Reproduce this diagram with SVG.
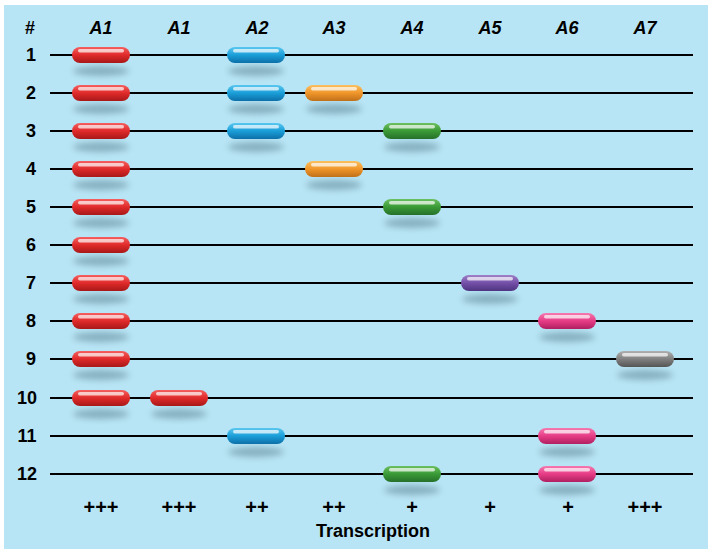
<svg xmlns="http://www.w3.org/2000/svg" width="714" height="555" viewBox="0 0 714 555">
<defs>
<style>
.t{font-family:"Liberation Sans",Arial,sans-serif;font-weight:bold;fill:#000;text-anchor:middle}
.h{font-size:18px;font-style:italic}
.n{font-size:18px}
.p{font-size:20px}
.ln{stroke:#000;stroke-width:2}
.hl{fill:#fff;opacity:0.7}
.sh{fill:#4a6f80;opacity:0.45;filter:url(#blur)}
</style>
<filter id="blur" x="-30%" y="-100%" width="160%" height="300%"><feGaussianBlur stdDeviation="3"/></filter>
<linearGradient id="gr" x1="0" y1="0" x2="0" y2="1"><stop offset="0" stop-color="#f56060"/><stop offset="0.5" stop-color="#e02a2a"/><stop offset="1" stop-color="#a81818"/></linearGradient>
<linearGradient id="gb" x1="0" y1="0" x2="0" y2="1"><stop offset="0" stop-color="#5ac8f0"/><stop offset="0.5" stop-color="#1a9ed8"/><stop offset="1" stop-color="#0d6fa8"/></linearGradient>
<linearGradient id="go" x1="0" y1="0" x2="0" y2="1"><stop offset="0" stop-color="#fbc060"/><stop offset="0.5" stop-color="#f0962a"/><stop offset="1" stop-color="#c0701a"/></linearGradient>
<linearGradient id="gg" x1="0" y1="0" x2="0" y2="1"><stop offset="0" stop-color="#6cc060"/><stop offset="0.5" stop-color="#3a9a36"/><stop offset="1" stop-color="#26702a"/></linearGradient>
<linearGradient id="gp" x1="0" y1="0" x2="0" y2="1"><stop offset="0" stop-color="#a080c8"/><stop offset="0.5" stop-color="#7450a8"/><stop offset="1" stop-color="#4e3480"/></linearGradient>
<linearGradient id="gk" x1="0" y1="0" x2="0" y2="1"><stop offset="0" stop-color="#f57ab0"/><stop offset="0.5" stop-color="#e63c86"/><stop offset="1" stop-color="#b02060"/></linearGradient>
<linearGradient id="gy" x1="0" y1="0" x2="0" y2="1"><stop offset="0" stop-color="#b0b0b0"/><stop offset="0.5" stop-color="#808080"/><stop offset="1" stop-color="#555"/></linearGradient>
<g id="pill-shadow"><ellipse class="sh" cx="0" cy="16" rx="28" ry="5"/></g>
<g id="pill-hl"><rect class="hl" x="-23" y="-6" width="46" height="3.5" rx="1.75"/></g>
</defs>
<rect x="0" y="0" width="714" height="555" fill="#fff"/>
<rect x="4" y="5" width="704" height="544" fill="#b8e5f5"/>

<g id="headers">
<text class="t n" x="30" y="34">#</text>
<text class="t h" x="101" y="34">A1</text>
<text class="t h" x="179" y="34">A1</text>
<text class="t h" x="257" y="34">A2</text>
<text class="t h" x="334" y="34">A3</text>
<text class="t h" x="412" y="34">A4</text>
<text class="t h" x="490" y="34">A5</text>
<text class="t h" x="567" y="34">A6</text>
<text class="t h" x="645" y="34">A7</text>
</g>

<g id="connectors">
<line class="ln" x1="50" y1="55" x2="693" y2="55"/>
<line class="ln" x1="50" y1="93" x2="693" y2="93"/>
<line class="ln" x1="50" y1="131" x2="693" y2="131"/>
<line class="ln" x1="50" y1="169" x2="693" y2="169"/>
<line class="ln" x1="50" y1="207" x2="693" y2="207"/>
<line class="ln" x1="50" y1="245" x2="693" y2="245"/>
<line class="ln" x1="50" y1="283" x2="693" y2="283"/>
<line class="ln" x1="50" y1="321" x2="693" y2="321"/>
<line class="ln" x1="50" y1="359" x2="693" y2="359"/>
<line class="ln" x1="50" y1="398" x2="693" y2="398"/>
<line class="ln" x1="50" y1="436" x2="693" y2="436"/>
<line class="ln" x1="50" y1="474" x2="693" y2="474"/>
</g>

<g id="row-numbers">
<text class="t n" x="31" y="61">1</text>
<text class="t n" x="31" y="99">2</text>
<text class="t n" x="31" y="137">3</text>
<text class="t n" x="31" y="175">4</text>
<text class="t n" x="31" y="213">5</text>
<text class="t n" x="31" y="251">6</text>
<text class="t n" x="31" y="289">7</text>
<text class="t n" x="31" y="327">8</text>
<text class="t n" x="31" y="365">9</text>
<text class="t n" x="27" y="404">10</text>
<text class="t n" x="27" y="442">11</text>
<text class="t n" x="27" y="480">12</text>
</g>

<g id="pills">
<g id="r1a1" transform="translate(101,55)"><use href="#pill-shadow"/><rect x="-29" y="-8" width="58" height="16" rx="8" fill="url(#gr)"/><use href="#pill-hl"/></g>
<g id="r2a1" transform="translate(101,93)"><use href="#pill-shadow"/><rect x="-29" y="-8" width="58" height="16" rx="8" fill="url(#gr)"/><use href="#pill-hl"/></g>
<g id="r3a1" transform="translate(101,131)"><use href="#pill-shadow"/><rect x="-29" y="-8" width="58" height="16" rx="8" fill="url(#gr)"/><use href="#pill-hl"/></g>
<g id="r4a1" transform="translate(101,169)"><use href="#pill-shadow"/><rect x="-29" y="-8" width="58" height="16" rx="8" fill="url(#gr)"/><use href="#pill-hl"/></g>
<g id="r5a1" transform="translate(101,207)"><use href="#pill-shadow"/><rect x="-29" y="-8" width="58" height="16" rx="8" fill="url(#gr)"/><use href="#pill-hl"/></g>
<g id="r6a1" transform="translate(101,245)"><use href="#pill-shadow"/><rect x="-29" y="-8" width="58" height="16" rx="8" fill="url(#gr)"/><use href="#pill-hl"/></g>
<g id="r7a1" transform="translate(101,283)"><use href="#pill-shadow"/><rect x="-29" y="-8" width="58" height="16" rx="8" fill="url(#gr)"/><use href="#pill-hl"/></g>
<g id="r8a1" transform="translate(101,321)"><use href="#pill-shadow"/><rect x="-29" y="-8" width="58" height="16" rx="8" fill="url(#gr)"/><use href="#pill-hl"/></g>
<g id="r9a1" transform="translate(101,359)"><use href="#pill-shadow"/><rect x="-29" y="-8" width="58" height="16" rx="8" fill="url(#gr)"/><use href="#pill-hl"/></g>
<g id="r10a1" transform="translate(101,398)"><use href="#pill-shadow"/><rect x="-29" y="-8" width="58" height="16" rx="8" fill="url(#gr)"/><use href="#pill-hl"/></g>
<g id="r10a1b" transform="translate(179,398)"><use href="#pill-shadow"/><rect x="-29" y="-8" width="58" height="16" rx="8" fill="url(#gr)"/><use href="#pill-hl"/></g>
<g id="r1a2" transform="translate(256,55)"><use href="#pill-shadow"/><rect x="-29" y="-8" width="58" height="16" rx="8" fill="url(#gb)"/><use href="#pill-hl"/></g>
<g id="r2a2" transform="translate(256,93)"><use href="#pill-shadow"/><rect x="-29" y="-8" width="58" height="16" rx="8" fill="url(#gb)"/><use href="#pill-hl"/></g>
<g id="r3a2" transform="translate(256,131)"><use href="#pill-shadow"/><rect x="-29" y="-8" width="58" height="16" rx="8" fill="url(#gb)"/><use href="#pill-hl"/></g>
<g id="r11a2" transform="translate(256,436)"><use href="#pill-shadow"/><rect x="-29" y="-8" width="58" height="16" rx="8" fill="url(#gb)"/><use href="#pill-hl"/></g>
<g id="r2a3" transform="translate(334,93)"><use href="#pill-shadow"/><rect x="-29" y="-8" width="58" height="16" rx="8" fill="url(#go)"/><use href="#pill-hl"/></g>
<g id="r4a3" transform="translate(334,169)"><use href="#pill-shadow"/><rect x="-29" y="-8" width="58" height="16" rx="8" fill="url(#go)"/><use href="#pill-hl"/></g>
<g id="r3a4" transform="translate(412,131)"><use href="#pill-shadow"/><rect x="-29" y="-8" width="58" height="16" rx="8" fill="url(#gg)"/><use href="#pill-hl"/></g>
<g id="r5a4" transform="translate(412,207)"><use href="#pill-shadow"/><rect x="-29" y="-8" width="58" height="16" rx="8" fill="url(#gg)"/><use href="#pill-hl"/></g>
<g id="r12a4" transform="translate(412,474)"><use href="#pill-shadow"/><rect x="-29" y="-8" width="58" height="16" rx="8" fill="url(#gg)"/><use href="#pill-hl"/></g>
<g id="r7a5" transform="translate(490,283)"><use href="#pill-shadow"/><rect x="-29" y="-8" width="58" height="16" rx="8" fill="url(#gp)"/><use href="#pill-hl"/></g>
<g id="r8a6" transform="translate(567,321)"><use href="#pill-shadow"/><rect x="-29" y="-8" width="58" height="16" rx="8" fill="url(#gk)"/><use href="#pill-hl"/></g>
<g id="r11a6" transform="translate(567,436)"><use href="#pill-shadow"/><rect x="-29" y="-8" width="58" height="16" rx="8" fill="url(#gk)"/><use href="#pill-hl"/></g>
<g id="r12a6" transform="translate(567,474)"><use href="#pill-shadow"/><rect x="-29" y="-8" width="58" height="16" rx="8" fill="url(#gk)"/><use href="#pill-hl"/></g>
<g id="r9a7" transform="translate(645,359)"><use href="#pill-shadow"/><rect x="-29" y="-8" width="58" height="16" rx="8" fill="url(#gy)"/><use href="#pill-hl"/></g>
</g>

<g id="transcription">
<text class="t p" x="101" y="514">+++</text>
<text class="t p" x="179" y="514">+++</text>
<text class="t p" x="257" y="514">++</text>
<text class="t p" x="334" y="514">++</text>
<text class="t p" x="412" y="514">+</text>
<text class="t p" x="490" y="514">+</text>
<text class="t p" x="568" y="514">+</text>
<text class="t p" x="645" y="514">+++</text>
<text class="t" x="373" y="537" font-size="18">Transcription</text>
</g>
</svg>
